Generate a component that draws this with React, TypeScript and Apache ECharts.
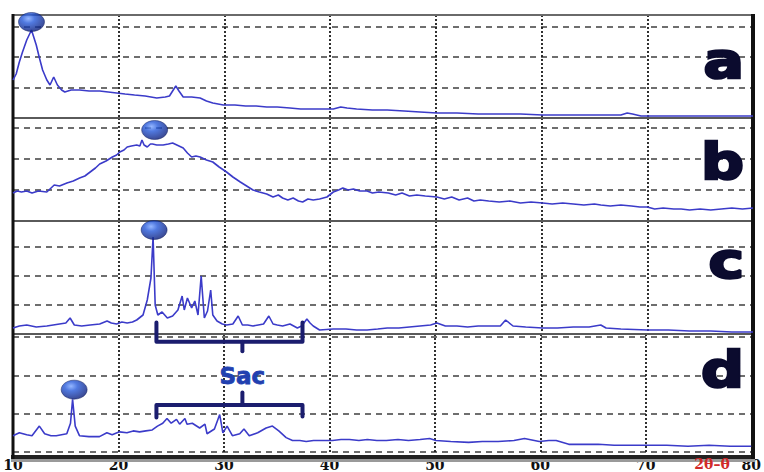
import React, { useEffect, useRef } from "react";
import * as echarts from "echarts";

// 2θ axis range and tick step
const angleMin = 10;
const angleMax = 80;
const angleStep = 10;

// Diffraction patterns, [2θ, intensity (a.u.)]
const patternA: [number, number][] = [
  [10.0, 38], [10.3, 44], [10.6, 56], [10.9, 66], [11.3, 78], [11.75, 88], [12.2, 73], [12.5, 60],
  [12.8, 48], [13.2, 38], [13.5, 33], [13.85, 41], [14.2, 33], [14.6, 28], [14.9, 26], [15.5, 28],
  [16.3, 28], [17.2, 27], [18.2, 27], [19.0, 26], [19.8, 25], [20.6, 24], [21.5, 23], [22.5, 22],
  [23.6, 20], [24.4, 21], [24.8, 22], [25.1, 27], [25.4, 32], [25.7, 27], [26.1, 21], [26.9, 21],
  [27.7, 20], [28.3, 17], [28.9, 15], [29.9, 13], [31.0, 13], [32.0, 12], [33.0, 12], [34.0, 11],
  [35.0, 11], [36.2, 10], [37.2, 9], [38.5, 9], [40.3, 9], [41.0, 11], [41.6, 10], [42.5, 9],
  [44.0, 8], [45.4, 8], [47.0, 7], [48.5, 6], [50.1, 5], [52.0, 5], [54.0, 4], [56.0, 4],
  [58.0, 4], [60.1, 3], [62.0, 3], [64.0, 3], [66.0, 3], [67.5, 3], [68.1, 5], [68.6, 4],
  [69.4, 2], [72.0, 2], [75.0, 2], [78.0, 2], [80.0, 2],
];

const patternB: [number, number][] = [
  [10.0, 28], [10.4, 30], [10.8, 29], [11.3, 30], [11.8, 28], [12.4, 30], [13.2, 29], [13.6, 33],
  [13.9, 36], [14.4, 35], [15.1, 38], [15.7, 40], [16.3, 43], [16.8, 45], [17.3, 49], [17.8, 53],
  [18.2, 57], [18.8, 60], [19.4, 64], [19.8, 66], [20.1, 69], [20.5, 71], [20.8, 74], [21.2, 75],
  [21.7, 76], [22.0, 75], [22.2, 81], [22.4, 76], [22.7, 74], [23.0, 77], [23.2, 77], [23.6, 76],
  [24.2, 76], [24.7, 77], [25.1, 78], [25.5, 76], [26.1, 73], [26.5, 68], [26.9, 64], [27.3, 65],
  [27.7, 64], [28.3, 61], [28.9, 59], [29.5, 54], [30.2, 49], [30.8, 44], [31.5, 39], [32.1, 35],
  [32.7, 31], [33.3, 29], [34.0, 27], [34.6, 24], [35.1, 26], [35.5, 23], [36.0, 21], [36.5, 23],
  [37.0, 20], [37.4, 19], [37.9, 22], [38.4, 21], [39.0, 22], [39.7, 24], [40.3, 29], [40.8, 31],
  [41.2, 33], [41.7, 31], [42.2, 32], [42.8, 30], [43.5, 30], [44.0, 28], [44.6, 29], [45.5, 28],
  [46.2, 26], [46.8, 28], [47.5, 25], [48.2, 26], [49.0, 25], [50.1, 24], [50.8, 22], [51.5, 24],
  [52.2, 21], [53.0, 23], [53.6, 20], [54.2, 21], [55.0, 20], [56.0, 19], [57.0, 20], [58.0, 18],
  [59.0, 19], [60.1, 18], [61.0, 17], [62.0, 18], [63.0, 17], [64.0, 16], [65.0, 17], [65.6, 16],
  [66.5, 15], [67.5, 16], [68.5, 15], [69.3, 14], [70.0, 14], [70.7, 12], [71.5, 13], [72.5, 12],
  [73.2, 12], [74.0, 11], [75.0, 12], [76.0, 11], [77.0, 12], [78.0, 13], [79.0, 12], [80.0, 13],
];

const patternC: [number, number][] = [
  [10.0, 6], [10.6, 8], [11.3, 9], [12.2, 7], [13.2, 8], [13.8, 9], [14.4, 10], [15.0, 11],
  [15.4, 16], [15.8, 9], [16.5, 8], [17.3, 9], [18.2, 10], [18.9, 13], [19.3, 11], [19.8, 10],
  [20.3, 12], [20.8, 11], [21.3, 12], [21.7, 14], [22.3, 19], [22.7, 34], [23.05, 56], [23.25, 97],
  [23.45, 29], [23.7, 19], [24.1, 22], [24.6, 16], [25.1, 18], [25.6, 24], [26.0, 38], [26.2, 24],
  [26.5, 36], [26.9, 26], [27.2, 33], [27.5, 19], [27.8, 58], [28.1, 16], [28.4, 23], [28.7, 44],
  [28.9, 19], [29.3, 13], [29.8, 10], [30.2, 9], [30.8, 10], [31.3, 18], [31.7, 9], [32.2, 9],
  [32.7, 8], [33.2, 9], [33.7, 10], [34.2, 18], [34.6, 10], [35.0, 9], [35.5, 8], [36.2, 10],
  [36.9, 6], [37.3, 8], [37.8, 15], [38.1, 11], [38.4, 8], [39.0, 4], [40.3, 5], [41.5, 5],
  [42.5, 4], [43.5, 4], [44.5, 5], [45.4, 6], [46.5, 6], [47.5, 7], [48.5, 8], [49.5, 9],
  [50.1, 11], [50.9, 8], [52.0, 8], [53.0, 7], [54.0, 8], [55.0, 8], [56.1, 8], [56.6, 14],
  [57.3, 8], [58.5, 7], [60.1, 6], [61.5, 6], [63.0, 7], [64.5, 7], [65.6, 9], [66.1, 6],
  [67.5, 5], [70.0, 4], [72.0, 4], [74.0, 3], [76.0, 3], [78.0, 2], [80.0, 2],
];

const patternD: [number, number][] = [
  [10.0, 17], [10.6, 20], [11.3, 18], [11.8, 17], [12.5, 27], [13.0, 19], [13.6, 17], [14.1, 17],
  [15.1, 19], [15.45, 30], [15.65, 55], [15.9, 27], [16.3, 17], [17.2, 16], [18.2, 16], [18.9, 20],
  [19.4, 18], [20.1, 21], [20.8, 20], [21.4, 22], [22.0, 21], [22.6, 22], [23.2, 23], [23.7, 27],
  [24.2, 30], [24.6, 35], [25.0, 30], [25.5, 34], [25.8, 29], [26.3, 35], [26.5, 29], [27.0, 30],
  [27.7, 25], [28.2, 29], [28.4, 19], [29.1, 24], [29.6, 39], [29.9, 20], [30.3, 27], [30.8, 17],
  [31.5, 19], [31.9, 24], [32.4, 17], [33.2, 20], [34.0, 25], [34.6, 27], [35.2, 22], [35.9, 15],
  [36.5, 12], [37.2, 12], [37.8, 11], [38.5, 12], [39.1, 12], [40.3, 12], [41.1, 13], [41.9, 13],
  [42.8, 12], [43.6, 13], [44.5, 12], [45.4, 12], [46.5, 13], [47.5, 12], [48.6, 13], [49.5, 14],
  [50.1, 12], [51.5, 11], [53.2, 10], [54.5, 11], [56.0, 11], [57.5, 12], [58.5, 14], [59.9, 11],
  [60.8, 12], [61.5, 12], [62.7, 8], [64.0, 8], [65.5, 8], [67.0, 7], [68.5, 7], [70.0, 7],
  [72.0, 7], [74.0, 6], [76.0, 7], [78.0, 6], [80.0, 6],
];

// Marked reflections (ball markers), [2θ, intensity]
const markerA: [number, number][] = [[11.75, 96]];
const markerB: [number, number][] = [[23.4, 91]];
const markerC: [number, number][] = [[23.35, 104]];
const markerD: [number, number][] = [[15.8, 65]];

const panelLetters = ["a", "b", "c", "d"];
const bracketLabel = "Sac";
const bracketSpan = [23.6, 37.45];
const bracketMid = 31.75;
const axisTitle = "2θ–θ";

// Stacked panel layout
const PLOT_LEFT = 13;
const PLOT_RIGHT = 753;
const panels = [
  { top: 15, height: 103, step: 30.5 },
  { top: 118, height: 103, step: 31 },
  { top: 221, height: 113, step: 29 },
  { top: 334, height: 123, step: 40 },
];
const PLOT_BOTTOM = 457;
const letterBaselines = [61, 162, 261, 370];

const patterns = [patternA, patternB, patternC, patternD];
const markers = [markerA, markerB, markerC, markerD];

export default function App() {
  const ref = useRef<HTMLDivElement>(null);

  useEffect(() => {
    if (!ref.current) return;
    const chart = echarts.init(ref.current, undefined, { renderer: "svg" });

    const ballColor = new echarts.graphic.RadialGradient(0.38, 0.32, 0.7, [
      { offset: 0, color: "#7aa4ff" },
      { offset: 0.35, color: "#2558d8" },
      { offset: 1, color: "#0a1c78" },
    ]);

    const grids = panels.map((p) => ({
      left: PLOT_LEFT,
      right: 764 - PLOT_RIGHT,
      top: p.top,
      height: p.height,
      containLabel: false,
    }));

    const xAxes = panels.map((_, i) => ({
      type: "value",
      gridIndex: i,
      min: angleMin,
      max: angleMax,
      interval: angleStep,
      axisLine: { show: false },
      axisTick: { show: false },
      axisLabel: {
        show: i === panels.length - 1,
        margin: 6,
        color: "#111",
        fontFamily: "DejaVu Serif",
        fontWeight: "bold",
        fontSize: 14,
        showMinLabel: true,
        showMaxLabel: true,
      },
      splitLine: {
        show: true,
        lineStyle: { color: "#1a1a1a", width: 1.8, type: [2, 2] },
      },
    }));

    const yAxes = panels.map((p, i) => ({
      type: "value",
      gridIndex: i,
      min: 0,
      max: p.height,
      interval: p.step,
      axisLine: { show: false },
      axisTick: { show: false },
      axisLabel: { show: false },
      splitLine: {
        show: true,
        lineStyle: { color: "#6e6e6e", width: 2, type: [6, 5] },
      },
    }));

    const lineSeries = patterns.map((data, i) => ({
      type: "line",
      xAxisIndex: i,
      yAxisIndex: i,
      data,
      showSymbol: false,
      smooth: false,
      z: 3,
      lineStyle: { color: "#3b3bc9", width: 1.6 },
    }));

    const ballSeries = markers.map((data, i) => ({
      type: "scatter",
      xAxisIndex: i,
      yAxisIndex: i,
      data,
      symbol: "circle",
      symbolSize: [26, 19],
      clip: false,
      z: 5,
      itemStyle: { color: ballColor, borderColor: "#08165a", borderWidth: 0.6 },
    }));

    chart.setOption({
      animation: false,
      backgroundColor: "#ffffff",
      grid: grids,
      xAxis: xAxes,
      yAxis: yAxes,
      series: [...lineSeries, ...ballSeries],
    });

    // Sac brackets drawn in data space of the lowest panel
    const last = panels.length - 1;
    const px = (x: number, y: number) =>
      chart.convertToPixel({ gridIndex: last } as any, [x, y]) as number[];

    const upperL = px(bracketSpan[0], 135);
    const upperLc = px(bracketSpan[0], 115);
    const upperRc = px(bracketSpan[1], 115);
    const upperR = px(bracketSpan[1], 135);
    const upperMidA = px(bracketMid, 115);
    const upperMidB = px(bracketMid, 105);

    const lowerL = px(bracketSpan[0], 36);
    const lowerLc = px(bracketSpan[0], 49);
    const lowerRc = px(bracketSpan[1], 49);
    const lowerR = px(bracketSpan[1], 37);
    const lowerMidA = px(bracketMid, 49);
    const lowerMidB = px(bracketMid, 62);
    const labelPos = px(bracketMid, 79);

    const bracketStyle = {
      stroke: "#1b1d6e",
      lineWidth: 4,
      lineJoin: "round",
      lineCap: "round",
      fill: null,
    };

    const frame: any[] = [];
    frame.push({
      type: "line",
      z: 1,
      shape: { x1: PLOT_LEFT, y1: panels[0].top, x2: PLOT_RIGHT, y2: panels[0].top },
      style: { stroke: "#6a6a6a", lineWidth: 2 },
    });
    panels.slice(1).forEach((p) => {
      frame.push({
        type: "line",
        z: 1,
        shape: { x1: PLOT_LEFT, y1: p.top, x2: PLOT_RIGHT, y2: p.top },
        style: { stroke: "#5a5a5a", lineWidth: 2 },
      });
    });
    frame.push({
      type: "line",
      z: 1,
      shape: { x1: PLOT_LEFT - 2, y1: PLOT_BOTTOM + 3.5, x2: PLOT_RIGHT + 2, y2: PLOT_BOTTOM + 3.5 },
      style: { stroke: "#9a9a9a", lineWidth: 3 },
    });
    frame.push({
      type: "line",
      z: 1,
      shape: { x1: PLOT_LEFT - 2, y1: PLOT_BOTTOM, x2: PLOT_RIGHT + 2, y2: PLOT_BOTTOM },
      style: { stroke: "#222", lineWidth: 4 },
    });
    frame.push({
      type: "line",
      z: 1,
      shape: { x1: PLOT_LEFT, y1: panels[0].top - 1, x2: PLOT_LEFT, y2: PLOT_BOTTOM + 2 },
      style: { stroke: "#111", lineWidth: 3 },
    });
    frame.push({
      type: "line",
      z: 1,
      shape: { x1: PLOT_RIGHT, y1: panels[0].top - 1, x2: PLOT_RIGHT, y2: PLOT_BOTTOM + 2 },
      style: { stroke: "#111", lineWidth: 4 },
    });

    const letters = panelLetters.map((t, i) => ({
      type: "text",
      z: 10,
      x: 744,
      y: letterBaselines[i],
      scaleX: 1.2,
      style: {
        text: t,
        fill: "#0b0b2e",
        stroke: "#0b0b2e",
        lineWidth: 2.5,
        font: "bold 50px 'DejaVu Sans'",
        align: "right",
        verticalAlign: "middle",
        shadowColor: "rgba(0,0,0,0.55)",
        shadowBlur: 3,
        shadowOffsetX: -3,
        shadowOffsetY: 3,
      },
    }));

    const brackets = [
      { type: "polyline", z: 6, shape: { points: [upperL, upperLc, upperRc, upperR] }, style: bracketStyle },
      { type: "line", z: 6, shape: { x1: upperMidA[0], y1: upperMidA[1], x2: upperMidB[0], y2: upperMidB[1] }, style: bracketStyle },
      { type: "polyline", z: 6, shape: { points: [lowerL, lowerLc, lowerRc, lowerR] }, style: bracketStyle },
      { type: "line", z: 6, shape: { x1: lowerMidA[0], y1: lowerMidA[1], x2: lowerMidB[0], y2: lowerMidB[1] }, style: bracketStyle },
      {
        type: "text",
        z: 6,
        x: labelPos[0],
        y: labelPos[1],
        style: {
          text: bracketLabel,
          fill: "#2140b0",
          stroke: "#2140b0",
          lineWidth: 0.8,
          font: "bold 23px 'DejaVu Sans'",
          align: "center",
          verticalAlign: "middle",
        },
      },
    ];

    const title = {
      type: "text",
      z: 10,
      x: 712,
      y: 464,
      style: {
        text: axisTitle,
        fill: "#d12a2a",
        font: "bold 14px 'DejaVu Serif'",
        align: "center",
        verticalAlign: "middle",
      },
    };

    chart.setOption({ graphic: [...frame, ...letters, ...brackets, title] });

    return () => chart.dispose();
  }, []);

  return (
    <div
      ref={ref}
      style={{ position: "fixed", left: 0, top: 0, width: 764, height: 472, background: "#fff" }}
    />
  );
}
